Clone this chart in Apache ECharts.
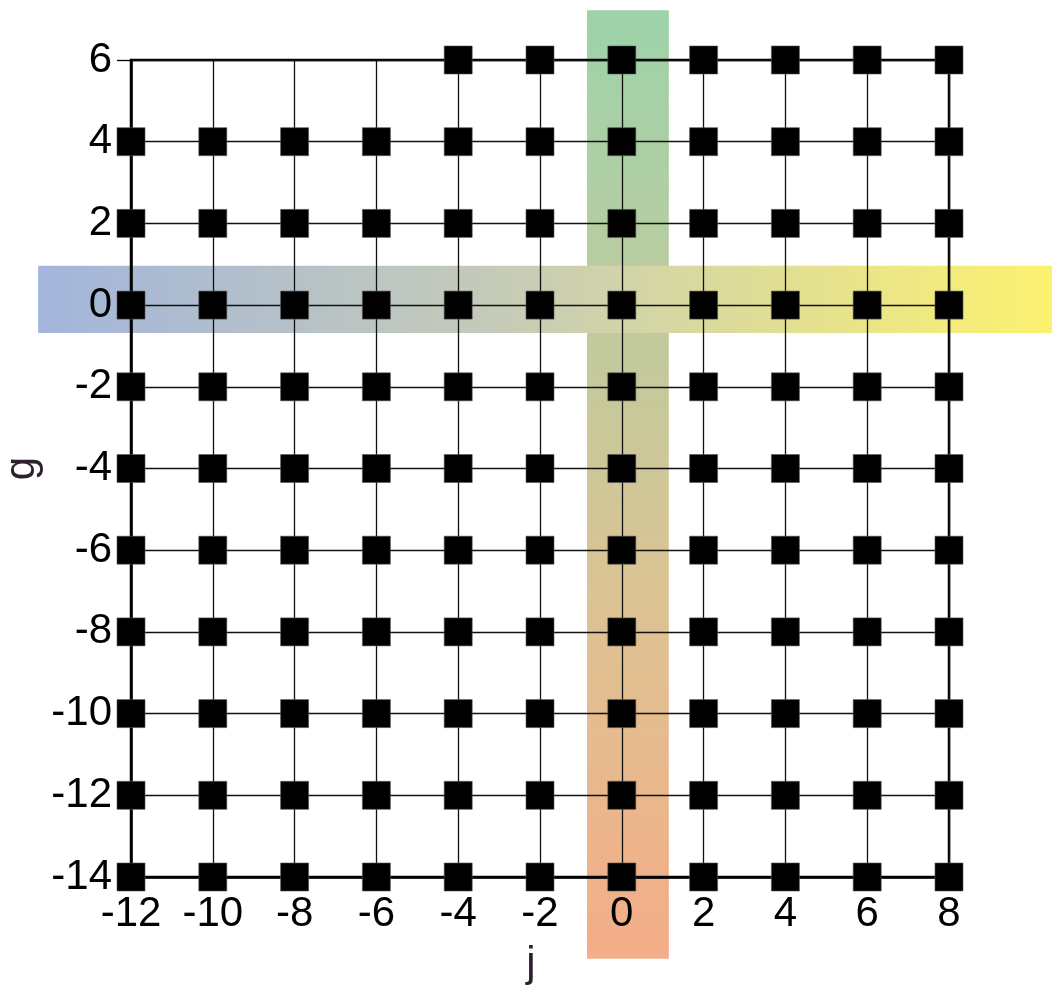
<!DOCTYPE html>
<html>
<head>
<meta charset="utf-8">
<script src="https://cdn.jsdelivr.net/npm/echarts@6/dist/echarts.min.js"></script>
<style>html,body{margin:0;padding:0;background:#fff}#c{width:1052px;height:985px}</style>
</head>
<body>
<div id="c"></div>
<script>
// Grid point coordinates (j values per g row)
var jValues = [-12, -10, -8, -6, -4, -2, 0, 2, 4, 6, 8];
var topRowJ = [-4, -2, 0, 2, 4, 6, 8];
var gValues = [6, 4, 2, 0, -2, -4, -6, -8, -10, -12, -14];
// Axis tick labels
var xTicks = [-12, -10, -8, -6, -4, -2, 0, 2, 4, 6, 8];
var yTicks = [-14, -12, -10, -8, -6, -4, -2, 0, 2, 4, 6];
// Highlight bands: [xStart, xEnd, yStart, yEnd]
var verticalBand = [-0.85, 1.15, -16.0, 7.22];
var horizontalBand = [-14.27, 10.6, -0.68, 0.965];
var verticalColors = ['#9dd3aa', '#dcc393', '#f4ad88'];
var horizontalColors = ['#a3b5dc', '#c5cbb8', '#fcf270'];

var points = [];
gValues.forEach(function (g) {
  var row = g === 6 ? topRowJ : jValues;
  row.forEach(function (j) { points.push([j, g]); });
});

function bandRender(colors, horizontal) {
  return function (params, api) {
    var p0 = api.coord([api.value(0), api.value(3)]);
    var p1 = api.coord([api.value(1), api.value(2)]);
    var grad = horizontal
      ? { type: 'linear', x: 0, y: 0, x2: 1, y2: 0, colorStops: [
          { offset: 0, color: colors[0] }, { offset: 0.45, color: colors[1] }, { offset: 1, color: colors[2] }] }
      : { type: 'linear', x: 0, y: 0, x2: 0, y2: 1, colorStops: [
          { offset: 0, color: colors[0] }, { offset: 0.62, color: colors[1] }, { offset: 1, color: colors[2] }] };
    return {
      type: 'rect',
      shape: { x: p0[0], y: p0[1], width: p1[0] - p0[0], height: p1[1] - p0[1] },
      style: { fill: grad }
    };
  };
}

var chart = echarts.init(document.getElementById('c'), null, { renderer: 'canvas' });
var font = 'Liberation Sans, Arial, sans-serif';
chart.setOption({
  animation: false,
  grid: { left: 131, right: 103, top: 60, bottom: 108, containLabel: false, outerBoundsMode: 'none',
    show: true, borderColor: '#000', borderWidth: 2.5, backgroundColor: 'transparent' },
  xAxis: {
    type: 'value', min: xTicks[0], max: xTicks[xTicks.length - 1], interval: 2,
    name: 'j', nameLocation: 'middle', nameGap: 66,
    nameTextStyle: { fontFamily: font, fontSize: 42, color: '#2d1f2d', padding: [0, 18, 0, 0] },
    axisLine: { show: true, onZero: false, lineStyle: { color: '#000', width: 2.5 } },
    axisTick: { show: true, length: 14, lineStyle: { color: '#555', width: 1.3 } },
    axisLabel: { fontFamily: font, fontSize: 42, color: '#000', margin: 16 },
    splitLine: { show: true, lineStyle: { color: '#111', width: 1.3 } }
  },
  yAxis: {
    type: 'value', min: yTicks[0], max: yTicks[yTicks.length - 1], interval: 2,
    name: 'g', nameLocation: 'middle', nameGap: 88, nameRotate: 90, nameMoveOverlap: false,
    nameTextStyle: { fontFamily: font, fontSize: 42, color: '#2d1f2d' },
    axisLine: { show: true, onZero: false, lineStyle: { color: '#000', width: 2.5 } },
    axisTick: { show: true, length: 14, lineStyle: { color: '#000', width: 1.3 } },
    axisLabel: { fontFamily: font, fontSize: 42, color: '#000', margin: 19 },
    splitLine: { show: true, lineStyle: { color: '#111', width: 1.3 } }
  },
  series: [
    { type: 'custom', z: -2, silent: true, clip: false, renderItem: bandRender(verticalColors, false), data: [verticalBand] },
    { type: 'custom', z: -1, silent: true, clip: false, renderItem: bandRender(horizontalColors, true), data: [horizontalBand] },
    { type: 'scatter', z: 5, symbol: 'rect', symbolSize: 28, data: points,
      itemStyle: { color: '#000', borderColor: '#555', borderWidth: 0.6, opacity: 1 } }
  ]
});
</script>
</body>
</html>
